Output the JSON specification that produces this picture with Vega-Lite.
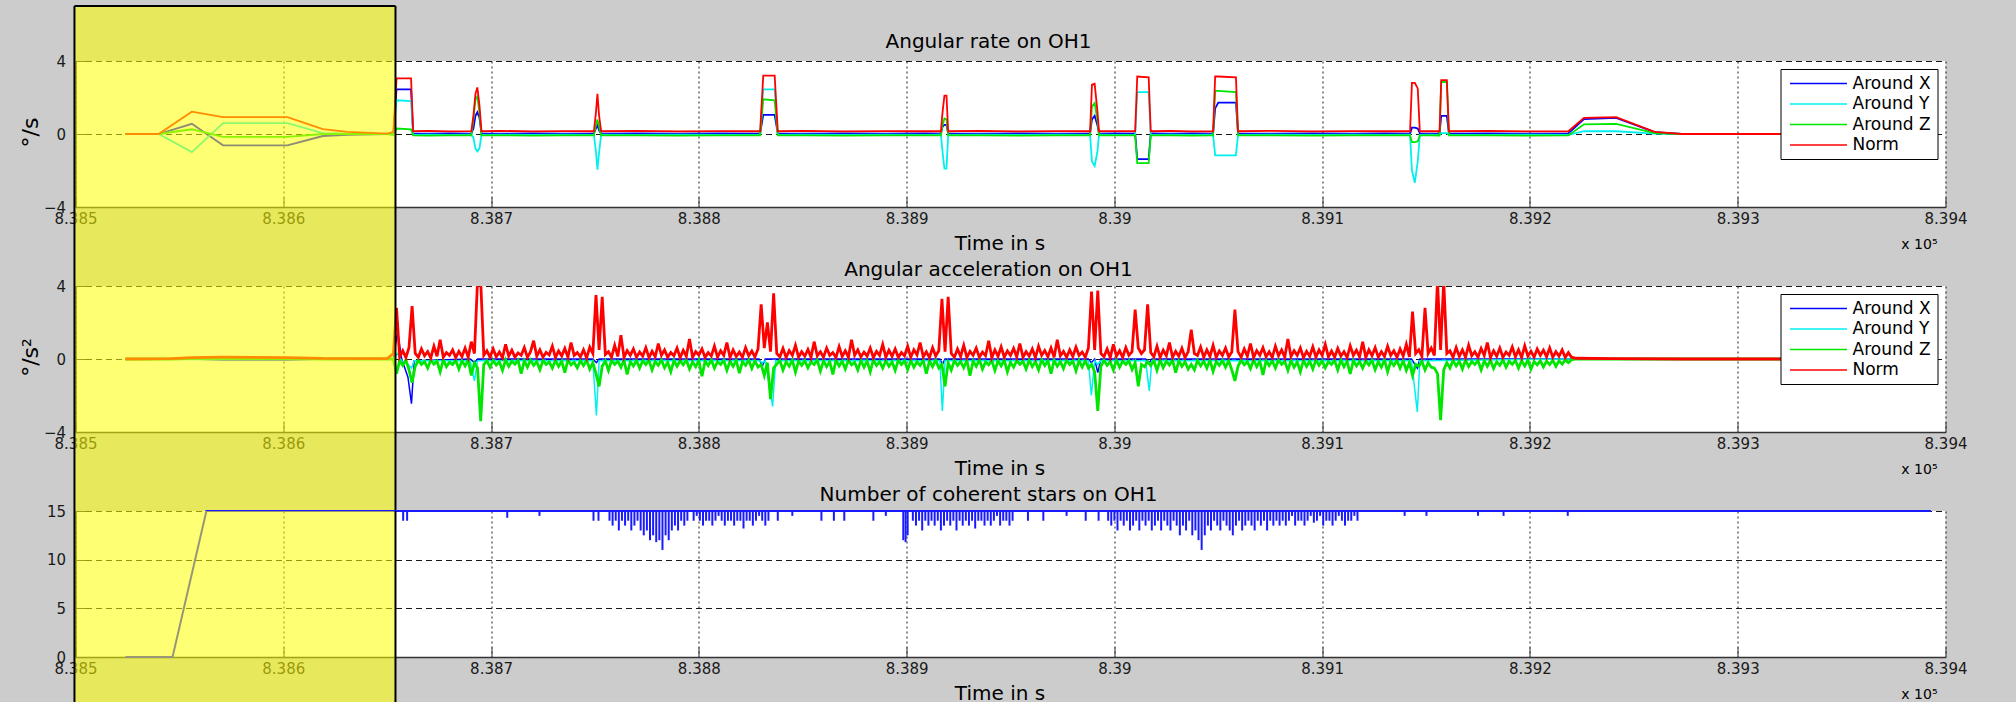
{
"$schema":"https://vega.github.io/schema/vega-lite/v6.json",
"background":"#cccccc",
"padding":{"left":19.5,"top":4,"right":48,"bottom":0},
"bounds":"flush",
"spacing":79,
"resolve":{"scale":{"color":"independent"},"legend":{"color":"independent"}},
"config":{
"font":"DejaVu Sans",
"view":{"fill":"white","stroke":null},
"title":{"fontSize":20,"fontWeight":"normal","color":"black","baseline":"alphabetic","dx":-22,"font":"DejaVu Sans","frame":"group"},
"axis":{"labelFont":"DejaVu Sans","labelFontSize":15,"labelColor":"#1a1a1a","titleFont":"DejaVu Sans","titleFontSize":20,"titleFontWeight":"normal","titleColor":"black","grid":true,"gridColor":"black","gridOpacity":0.9,"gridWidth":1,"domainColor":"#333333","domainWidth":1.5,"ticks":true,"tickColor":"#333333","tickWidth":1,"tickSize":-10},
"axisX":{"gridDash":[2,3],"labelPadding":14,"labelFlush":false,"labelOverlap":false,"titleBaseline":"alphabetic","titleX":924,"titleY":42},
"axisY":{"gridDash":[6,4],"labelPadding":20,"titleAngle":-90,"titleBaseline":"alphabetic","titleAlign":"center","titleX":-38,"titleY":71,"titleFontSize":22},
"legend":{"orient":"top-right","offset":8,"fillColor":"white","strokeColor":"black","padding":6,"labelFont":"DejaVu Sans","labelFontSize":17,"labelColor":"black","symbolType":"M-1,0H10.4","symbolSize":100,"symbolStrokeWidth":1.5,"labelOffset":49,"rowPadding":2.5}
},
"datasets":{
"rate":[
{"t":838524,"X":0,"Y":0,"Z":0,"N":0},
{"t":838540,"X":0,"Y":0,"Z":0,"N":0},
{"t":838556,"X":0.56,"Y":-0.99,"Z":0.26,"N":1.22},
{"t":838571,"X":-0.62,"Y":0.6,"Z":-0.16,"N":0.93},
{"t":838602,"X":-0.62,"Y":0.6,"Z":-0.16,"N":0.93},
{"t":838619,"X":-0.11,"Y":0.05,"Z":0,"N":0.27},
{"t":838631,"X":-0.04,"Y":0.02,"Z":0,"N":0.12},
{"t":838650,"X":0,"Y":0,"Z":0,"N":0.02},
{"t":838653,"X":0.02,"Y":-0.03,"Z":-0.05,"N":0.12},
{"t":838654.5,"X":2.45,"Y":1.85,"Z":0.3,"N":3.05},
{"t":838661.5,"X":2.45,"Y":1.8,"Z":0.25,"N":3.05},
{"t":838662.5,"X":0.03,"Y":-0.05,"Z":-0.08,"N":0.15},
{"t":838670,"X":0.02,"Y":-0.04,"Z":-0.09,"N":0.17},
{"t":838680,"X":0.03,"Y":-0.05,"Z":-0.07,"N":0.14},
{"t":838690.5,"X":0.02,"Y":-0.04,"Z":-0.08,"N":0.16},
{"t":838691.5,"X":0.3,"Y":-0.2,"Z":0.8,"N":1.0},
{"t":838692.5,"X":1.0,"Y":-0.8,"Z":1.9,"N":2.2},
{"t":838693.4,"X":1.2,"Y":-0.95,"Z":2.05,"N":2.55},
{"t":838694.4,"X":0.9,"Y":-0.8,"Z":1.2,"N":1.6},
{"t":838695.4,"X":0.03,"Y":-0.05,"Z":-0.08,"N":0.15},
{"t":838705,"X":0.02,"Y":-0.04,"Z":-0.07,"N":0.17},
{"t":838720,"X":0.03,"Y":-0.05,"Z":-0.09,"N":0.14},
{"t":838735,"X":0.02,"Y":-0.04,"Z":-0.08,"N":0.16},
{"t":838749.5,"X":0.03,"Y":-0.05,"Z":-0.07,"N":0.15},
{"t":838750.5,"X":0.3,"Y":-1.0,"Z":0.5,"N":1.2},
{"t":838751.2,"X":0.5,"Y":-1.95,"Z":0.8,"N":2.2},
{"t":838752,"X":0.2,"Y":-1.0,"Z":0.4,"N":1.0},
{"t":838753,"X":0.02,"Y":-0.04,"Z":-0.08,"N":0.15},
{"t":838770,"X":0.03,"Y":-0.05,"Z":-0.07,"N":0.17},
{"t":838790,"X":0.02,"Y":-0.04,"Z":-0.09,"N":0.14},
{"t":838810,"X":0.03,"Y":-0.05,"Z":-0.08,"N":0.16},
{"t":838829.5,"X":0.02,"Y":-0.04,"Z":-0.08,"N":0.15},
{"t":838831,"X":1.05,"Y":2.45,"Z":1.9,"N":3.2},
{"t":838836.5,"X":1.05,"Y":2.45,"Z":1.85,"N":3.2},
{"t":838838,"X":0.03,"Y":-0.05,"Z":-0.08,"N":0.15},
{"t":838850,"X":0.02,"Y":-0.04,"Z":-0.07,"N":0.17},
{"t":838870,"X":0.03,"Y":-0.05,"Z":-0.09,"N":0.14},
{"t":838890,"X":0.02,"Y":-0.04,"Z":-0.08,"N":0.16},
{"t":838909,"X":0.03,"Y":-0.05,"Z":-0.07,"N":0.15},
{"t":838916.5,"X":0.02,"Y":-0.04,"Z":-0.08,"N":0.15},
{"t":838917.3,"X":0.4,"Y":-1.0,"Z":0.5,"N":1.2},
{"t":838918.2,"X":0.5,"Y":-1.9,"Z":0.85,"N":2.1},
{"t":838919.2,"X":0.5,"Y":-1.9,"Z":0.8,"N":2.1},
{"t":838920,"X":0.03,"Y":-0.05,"Z":-0.08,"N":0.15},
{"t":838935,"X":0.02,"Y":-0.04,"Z":-0.07,"N":0.17},
{"t":838955,"X":0.03,"Y":-0.05,"Z":-0.09,"N":0.14},
{"t":838972,"X":0.02,"Y":-0.04,"Z":-0.08,"N":0.16},
{"t":838988.3,"X":0.03,"Y":-0.05,"Z":-0.07,"N":0.15},
{"t":838989.2,"X":0.8,"Y":-1.5,"Z":1.5,"N":2.7},
{"t":838990.5,"X":1.0,"Y":-1.75,"Z":1.7,"N":2.75},
{"t":838991.8,"X":0.5,"Y":-1.0,"Z":0.8,"N":1.3},
{"t":838992.6,"X":0.02,"Y":-0.04,"Z":-0.08,"N":0.15},
{"t":839001,"X":0.03,"Y":-0.05,"Z":-0.07,"N":0.16},
{"t":839010,"X":0.02,"Y":-0.04,"Z":-0.08,"N":0.15},
{"t":839011,"X":-1.38,"Y":2.3,"Z":-1.6,"N":3.15},
{"t":839016.5,"X":-1.38,"Y":2.3,"Z":-1.6,"N":3.1},
{"t":839017.5,"X":0.03,"Y":-0.05,"Z":-0.08,"N":0.15},
{"t":839027,"X":0.02,"Y":-0.04,"Z":-0.07,"N":0.17},
{"t":839037,"X":0.03,"Y":-0.05,"Z":-0.09,"N":0.14},
{"t":839047.5,"X":0.02,"Y":-0.04,"Z":-0.08,"N":0.15},
{"t":839048.5,"X":1.4,"Y":-1.17,"Z":2.36,"N":3.15},
{"t":839050,"X":1.72,"Y":-1.17,"Z":2.36,"N":3.15},
{"t":839058.5,"X":1.72,"Y":-1.17,"Z":2.3,"N":3.1},
{"t":839059.5,"X":0.03,"Y":-0.05,"Z":-0.08,"N":0.15},
{"t":839075,"X":0.02,"Y":-0.04,"Z":-0.07,"N":0.17},
{"t":839095,"X":0.03,"Y":-0.05,"Z":-0.09,"N":0.14},
{"t":839115,"X":0.02,"Y":-0.04,"Z":-0.08,"N":0.16},
{"t":839130,"X":0.03,"Y":-0.05,"Z":-0.07,"N":0.15},
{"t":839142.3,"X":0.02,"Y":-0.04,"Z":-0.08,"N":0.15},
{"t":839143.2,"X":0.35,"Y":-2.0,"Z":-0.44,"N":2.8},
{"t":839144.6,"X":0.35,"Y":-2.67,"Z":-0.44,"N":2.8},
{"t":839146,"X":0.3,"Y":-1.5,"Z":-0.4,"N":2.5},
{"t":839147,"X":0.03,"Y":-0.05,"Z":-0.08,"N":0.15},
{"t":839152,"X":0.02,"Y":-0.04,"Z":-0.07,"N":0.16},
{"t":839156.5,"X":0.03,"Y":-0.05,"Z":-0.08,"N":0.15},
{"t":839157.3,"X":0.99,"Y":0.05,"Z":2.85,"N":2.95},
{"t":839160,"X":0.99,"Y":0.05,"Z":2.85,"N":2.95},
{"t":839161,"X":0.02,"Y":-0.04,"Z":-0.08,"N":0.15},
{"t":839180,"X":0.03,"Y":-0.05,"Z":-0.07,"N":0.17},
{"t":839200,"X":0.02,"Y":-0.04,"Z":-0.09,"N":0.14},
{"t":839218.5,"X":0.03,"Y":-0.05,"Z":-0.08,"N":0.15},
{"t":839226,"X":0.82,"Y":0.16,"Z":0.53,"N":0.88},
{"t":839241.5,"X":0.88,"Y":0.15,"Z":0.55,"N":0.92},
{"t":839260,"X":0.1,"Y":0.02,"Z":0.05,"N":0.12},
{"t":839273,"X":0,"Y":0,"Z":0,"N":0},
{"t":839393,"X":0,"Y":0,"Z":0,"N":0}
],
"accxy":[
{"t":838524,"X":0,"Y":0},{"t":838556,"X":0,"Y":-0.03},{"t":838571,"X":-0.05,"Y":-0.03},{"t":838602,"X":-0.05,"Y":-0.03},{"t":838619,"X":0,"Y":0},{"t":838653,"X":0,"Y":0},
{"t":838655,"X":1.5,"Y":0.3},{"t":838657,"X":0,"Y":-0.1},{"t":838660,"X":-1.0,"Y":-0.3},{"t":838661.7,"X":-2.45,"Y":-0.5},{"t":838663,"X":-0.1,"Y":-0.1},
{"t":838690,"X":0,"Y":-0.1},{"t":838692,"X":-0.2,"Y":-1.2},{"t":838693.5,"X":0,"Y":-0.1},
{"t":838749,"X":0,"Y":-0.1},{"t":838750.7,"X":-0.2,"Y":-3.1},{"t":838752,"X":0,"Y":-0.1},
{"t":838829,"X":0,"Y":-0.1},{"t":838830.5,"X":-0.4,"Y":-0.2},{"t":838832,"X":0,"Y":-0.1},{"t":838835.5,"X":0,"Y":-2.6},{"t":838837,"X":0,"Y":-0.1},
{"t":838916,"X":0,"Y":-0.1},{"t":838917.2,"X":-0.3,"Y":-2.85},{"t":838918.5,"X":0,"Y":-0.1},
{"t":838987.5,"X":0,"Y":-0.1},{"t":838988.9,"X":-0.2,"Y":-2.0},{"t":838990.5,"X":0,"Y":-0.1},{"t":838992,"X":-0.75,"Y":-0.3},{"t":838993.5,"X":0,"Y":-0.1},
{"t":839015,"X":0,"Y":-0.1},{"t":839016.8,"X":-0.2,"Y":-1.75},{"t":839018,"X":0,"Y":-0.1},
{"t":839143,"X":0,"Y":-0.1},{"t":839145.8,"X":-0.5,"Y":-2.9},{"t":839147,"X":0,"Y":-0.1},
{"t":839220,"X":0,"Y":0},{"t":839393,"X":0,"Y":0}
],
"acczn":[
{"t":838524,"Z":0,"N":0},{"t":838546,"Z":0,"N":0.02},{"t":838556,"Z":0.03,"N":0.08},{"t":838571,"Z":0.03,"N":0.1},{"t":838602,"Z":0.02,"N":0.08},{"t":838619,"Z":0,"N":0.03},{"t":838650,"Z":0,"N":0.02},{"t":838653,"Z":0,"N":0.3},{"t":838654.5,"Z":-0.8,"N":2.8},
{"t":838656,"Z":-0.1,"N":0.12},{"t":838657.5,"Z":-0.35,"N":0.45},{"t":838659,"Z":-0.05,"N":0.08},{"t":838660.5,"Z":-0.6,"N":0.62},{"t":838662,"Z":-1.3,"N":2.9},{"t":838663.5,"Z":-0.4,"N":0.3},{"t":838665,"Z":-0.08,"N":0.1},{"t":838666.5,"Z":-0.3,"N":0.55},{"t":838668,"Z":-0.15,"N":0.18},{"t":838669.5,"Z":-0.5,"N":0.4},
{"t":838671,"Z":-0.06,"N":0.06},{"t":838672.5,"Z":-0.28,"N":0.7},{"t":838674,"Z":-0.12,"N":0.15},{"t":838675.5,"Z":-0.7,"N":1.05},{"t":838677,"Z":-0.05,"N":0.1},{"t":838678.5,"Z":-0.42,"N":0.35},{"t":838680,"Z":-0.18,"N":0.2},{"t":838681.5,"Z":-0.3,"N":0.5},{"t":838683,"Z":-0.08,"N":0.08},{"t":838684.5,"Z":-0.55,"N":0.42},
{"t":838686,"Z":-0.1,"N":0.14},{"t":838687.5,"Z":-0.38,"N":0.6},{"t":838689,"Z":-0.06,"N":0.1},{"t":838690.5,"Z":-0.9,"N":0.95},{"t":838692,"Z":-0.2,"N":0.3},{"t":838693.5,"Z":-0.5,"N":4.3},{"t":838695,"Z":-3.4,"N":4.3},{"t":838696.5,"Z":-0.3,"N":0.2},{"t":838698,"Z":-0.1,"N":0.45},{"t":838699.5,"Z":-0.45,"N":0.1},
{"t":838701,"Z":-0.08,"N":0.55},{"t":838702.5,"Z":-0.33,"N":0.12},{"t":838704,"Z":-0.15,"N":0.38},{"t":838705.5,"Z":-0.62,"N":0.07},{"t":838707,"Z":-0.05,"N":0.8},{"t":838708.5,"Z":-0.4,"N":0.16},{"t":838710,"Z":-0.12,"N":0.48},{"t":838711.5,"Z":-0.28,"N":0.1},{"t":838713,"Z":-0.07,"N":0.33},{"t":838714.5,"Z":-0.8,"N":0.2},
{"t":838716,"Z":-0.1,"N":0.62},{"t":838717.5,"Z":-0.45,"N":0.09},{"t":838719,"Z":-0.06,"N":0.4},{"t":838720.5,"Z":-0.35,"N":1.0},{"t":838722,"Z":-0.14,"N":0.15},{"t":838723.5,"Z":-0.58,"N":0.5},{"t":838725,"Z":-0.08,"N":0.1},{"t":838726.5,"Z":-0.3,"N":0.36},{"t":838728,"Z":-0.16,"N":0.22},{"t":838729.5,"Z":-0.5,"N":0.7},
{"t":838731,"Z":-0.07,"N":0.08},{"t":838732.5,"Z":-0.4,"N":0.44},{"t":838734,"Z":-0.12,"N":0.17},{"t":838735.5,"Z":-0.75,"N":0.58},{"t":838737,"Z":-0.05,"N":0.1},{"t":838738.5,"Z":-0.32,"N":0.9},{"t":838740,"Z":-0.18,"N":0.2},{"t":838741.5,"Z":-0.48,"N":0.35},{"t":838743,"Z":-0.09,"N":0.12},{"t":838744.5,"Z":-0.36,"N":0.5},
{"t":838746,"Z":-0.06,"N":0.06},{"t":838747.5,"Z":-0.55,"N":0.65},{"t":838749,"Z":-0.2,"N":0.3},{"t":838750.5,"Z":-0.8,"N":3.5},{"t":838752,"Z":-1.5,"N":0.5},{"t":838753.5,"Z":-0.4,"N":3.4},{"t":838755,"Z":-0.1,"N":0.25},{"t":838756.5,"Z":-0.62,"N":0.4},{"t":838758,"Z":-0.08,"N":0.1},{"t":838759.5,"Z":-0.3,"N":0.75},
{"t":838761,"Z":-0.12,"N":0.14},{"t":838762.5,"Z":-0.45,"N":1.3},{"t":838764,"Z":-0.06,"N":0.09},{"t":838765.5,"Z":-0.85,"N":0.46},{"t":838767,"Z":-0.15,"N":0.2},{"t":838768.5,"Z":-0.38,"N":0.55},{"t":838770,"Z":-0.08,"N":0.1},{"t":838771.5,"Z":-0.5,"N":0.38},{"t":838773,"Z":-0.1,"N":0.16},{"t":838774.5,"Z":-0.3,"N":0.62},
{"t":838776,"Z":-0.07,"N":0.08},{"t":838777.5,"Z":-0.6,"N":0.42},{"t":838779,"Z":-0.14,"N":0.12},{"t":838780.5,"Z":-0.35,"N":0.85},{"t":838782,"Z":-0.05,"N":0.2},{"t":838783.5,"Z":-0.48,"N":0.5},{"t":838785,"Z":-0.18,"N":0.1},{"t":838786.5,"Z":-0.7,"N":0.36},{"t":838788,"Z":-0.09,"N":0.18},{"t":838789.5,"Z":-0.4,"N":0.6},
{"t":838791,"Z":-0.1,"N":0.07},{"t":838792.5,"Z":-0.32,"N":0.48},{"t":838794,"Z":-0.06,"N":0.15},{"t":838795.5,"Z":-0.55,"N":1.1},{"t":838797,"Z":-0.16,"N":0.1},{"t":838798.5,"Z":-0.42,"N":0.4},{"t":838800,"Z":-0.08,"N":0.22},{"t":838801.5,"Z":-0.95,"N":0.55},{"t":838803,"Z":-0.12,"N":0.09},{"t":838804.5,"Z":-0.36,"N":0.35},
{"t":838806,"Z":-0.05,"N":0.16},{"t":838807.5,"Z":-0.5,"N":0.7},{"t":838809,"Z":-0.15,"N":0.1},{"t":838810.5,"Z":-0.3,"N":0.45},{"t":838812,"Z":-0.08,"N":0.2},{"t":838813.5,"Z":-0.62,"N":0.9},{"t":838815,"Z":-0.12,"N":0.08},{"t":838816.5,"Z":-0.4,"N":0.5},{"t":838818,"Z":-0.07,"N":0.14},{"t":838819.5,"Z":-0.78,"N":0.38},
{"t":838821,"Z":-0.14,"N":0.1},{"t":838822.5,"Z":-0.35,"N":0.62},{"t":838824,"Z":-0.06,"N":0.18},{"t":838825.5,"Z":-0.52,"N":0.44},{"t":838827,"Z":-0.1,"N":0.12},{"t":838828.5,"Z":-0.44,"N":0.55},{"t":838830,"Z":-0.3,"N":3.0},{"t":838831.5,"Z":-0.9,"N":0.6},{"t":838833,"Z":-0.2,"N":2.0},{"t":838834.5,"Z":-2.2,"N":0.4},
{"t":838836,"Z":-0.5,"N":3.6},{"t":838837.5,"Z":-0.28,"N":0.3},{"t":838839,"Z":-0.08,"N":0.12},{"t":838840.5,"Z":-0.6,"N":0.58},{"t":838842,"Z":-0.15,"N":0.08},{"t":838843.5,"Z":-0.4,"N":0.46},{"t":838845,"Z":-0.06,"N":0.2},{"t":838846.5,"Z":-0.72,"N":0.75},{"t":838848,"Z":-0.12,"N":0.1},{"t":838849.5,"Z":-0.35,"N":0.4},
{"t":838851,"Z":-0.09,"N":0.15},{"t":838852.5,"Z":-0.48,"N":0.52},{"t":838854,"Z":-0.16,"N":0.09},{"t":838855.5,"Z":-0.3,"N":0.95},{"t":838857,"Z":-0.05,"N":0.18},{"t":838858.5,"Z":-0.66,"N":0.4},{"t":838860,"Z":-0.1,"N":0.1},{"t":838861.5,"Z":-0.42,"N":0.6},{"t":838863,"Z":-0.14,"N":0.2},{"t":838864.5,"Z":-0.85,"N":0.35},
{"t":838866,"Z":-0.07,"N":0.08},{"t":838867.5,"Z":-0.38,"N":0.68},{"t":838869,"Z":-0.12,"N":0.14},{"t":838870.5,"Z":-0.55,"N":0.45},{"t":838872,"Z":-0.06,"N":0.1},{"t":838873.5,"Z":-0.32,"N":1.05},{"t":838875,"Z":-0.18,"N":0.2},{"t":838876.5,"Z":-0.6,"N":0.5},{"t":838878,"Z":-0.08,"N":0.12},{"t":838879.5,"Z":-0.45,"N":0.38},
{"t":838881,"Z":-0.1,"N":0.16},{"t":838882.5,"Z":-0.7,"N":0.6},{"t":838884,"Z":-0.05,"N":0.08},{"t":838885.5,"Z":-0.36,"N":0.42},{"t":838887,"Z":-0.14,"N":0.2},{"t":838888.5,"Z":-0.5,"N":0.8},{"t":838890,"Z":-0.09,"N":0.1},{"t":838891.5,"Z":-0.4,"N":0.48},{"t":838893,"Z":-0.16,"N":0.15},{"t":838894.5,"Z":-0.62,"N":0.55},
{"t":838896,"Z":-0.06,"N":0.09},{"t":838897.5,"Z":-0.3,"N":0.36},{"t":838899,"Z":-0.12,"N":0.18},{"t":838900.5,"Z":-0.58,"N":0.7},{"t":838902,"Z":-0.08,"N":0.1},{"t":838903.5,"Z":-0.45,"N":0.5},{"t":838905,"Z":-0.15,"N":0.22},{"t":838906.5,"Z":-0.35,"N":0.9},{"t":838908,"Z":-0.07,"N":0.12},{"t":838909.5,"Z":-0.8,"N":0.4},
{"t":838911,"Z":-0.1,"N":0.08},{"t":838912.5,"Z":-0.42,"N":0.62},{"t":838914,"Z":-0.06,"N":0.16},{"t":838915.5,"Z":-0.5,"N":0.45},{"t":838917,"Z":-0.3,"N":3.3},{"t":838918.5,"Z":-1.5,"N":0.4},{"t":838920,"Z":-0.2,"N":3.4},{"t":838921.5,"Z":-0.6,"N":0.3},{"t":838923,"Z":-0.08,"N":0.1},{"t":838924.5,"Z":-0.35,"N":0.55},
{"t":838926,"Z":-0.14,"N":0.14},{"t":838927.5,"Z":-0.48,"N":0.75},{"t":838929,"Z":-0.07,"N":0.09},{"t":838930.5,"Z":-0.92,"N":0.42},{"t":838932,"Z":-0.12,"N":0.2},{"t":838933.5,"Z":-0.4,"N":0.6},{"t":838935,"Z":-0.05,"N":0.1},{"t":838936.5,"Z":-0.55,"N":0.38},{"t":838938,"Z":-0.16,"N":0.18},{"t":838939.5,"Z":-0.32,"N":1.0},
{"t":838941,"Z":-0.08,"N":0.08},{"t":838942.5,"Z":-0.62,"N":0.5},{"t":838944,"Z":-0.1,"N":0.15},{"t":838945.5,"Z":-0.38,"N":0.66},{"t":838947,"Z":-0.06,"N":0.1},{"t":838948.5,"Z":-0.7,"N":0.44},{"t":838950,"Z":-0.18,"N":0.2},{"t":838951.5,"Z":-0.45,"N":0.58},{"t":838953,"Z":-0.09,"N":0.12},{"t":838954.5,"Z":-0.3,"N":0.85},
{"t":838956,"Z":-0.12,"N":0.1},{"t":838957.5,"Z":-0.55,"N":0.4},{"t":838959,"Z":-0.07,"N":0.16},{"t":838960.5,"Z":-0.42,"N":0.55},{"t":838962,"Z":-0.15,"N":0.08},{"t":838963.5,"Z":-0.6,"N":0.7},{"t":838965,"Z":-0.05,"N":0.2},{"t":838966.5,"Z":-0.36,"N":0.46},{"t":838968,"Z":-0.1,"N":0.12},{"t":838969.5,"Z":-0.8,"N":0.6},
{"t":838971,"Z":-0.08,"N":0.09},{"t":838972.5,"Z":-0.4,"N":1.05},{"t":838974,"Z":-0.14,"N":0.18},{"t":838975.5,"Z":-0.52,"N":0.42},{"t":838977,"Z":-0.06,"N":0.1},{"t":838978.5,"Z":-0.3,"N":0.5},{"t":838980,"Z":-0.12,"N":0.14},{"t":838981.5,"Z":-0.65,"N":0.65},{"t":838983,"Z":-0.09,"N":0.2},{"t":838984.5,"Z":-0.44,"N":0.38},
{"t":838986,"Z":-0.1,"N":0.1},{"t":838987.5,"Z":-0.5,"N":0.6},{"t":838989,"Z":-0.3,"N":3.7},{"t":838990.5,"Z":-0.7,"N":0.5},{"t":838992,"Z":-2.85,"N":3.75},{"t":838993.5,"Z":-0.4,"N":0.3},{"t":838995,"Z":-0.08,"N":0.12},{"t":838996.5,"Z":-0.35,"N":0.55},{"t":838998,"Z":-0.14,"N":0.08},{"t":838999.5,"Z":-0.6,"N":0.8},
{"t":839001,"Z":-0.06,"N":0.16},{"t":839002.5,"Z":-0.45,"N":0.45},{"t":839004,"Z":-0.12,"N":0.1},{"t":839005.5,"Z":-0.3,"N":0.62},{"t":839007,"Z":-0.1,"N":0.2},{"t":839008.5,"Z":-0.58,"N":0.4},{"t":839010,"Z":-0.2,"N":2.7},{"t":839011.5,"Z":-1.5,"N":0.6},{"t":839013,"Z":-0.3,"N":0.3},{"t":839014.5,"Z":-0.42,"N":0.5},
{"t":839016,"Z":-0.15,"N":3.0},{"t":839017.5,"Z":-0.36,"N":0.35},{"t":839019,"Z":-0.08,"N":0.12},{"t":839020.5,"Z":-0.62,"N":0.7},{"t":839022,"Z":-0.05,"N":0.09},{"t":839023.5,"Z":-0.48,"N":0.48},{"t":839025,"Z":-0.12,"N":0.18},{"t":839026.5,"Z":-0.33,"N":0.9},{"t":839028,"Z":-0.07,"N":0.1},{"t":839029.5,"Z":-0.75,"N":0.42},
{"t":839031,"Z":-0.1,"N":0.15},{"t":839032.5,"Z":-0.4,"N":0.58},{"t":839034,"Z":-0.16,"N":0.08},{"t":839035.5,"Z":-0.55,"N":0.4},{"t":839037,"Z":-0.3,"N":1.6},{"t":839038.5,"Z":-0.6,"N":0.3},{"t":839040,"Z":-0.09,"N":0.2},{"t":839041.5,"Z":-0.38,"N":0.65},{"t":839043,"Z":-0.12,"N":0.1},{"t":839044.5,"Z":-0.5,"N":0.5},
{"t":839046,"Z":-0.06,"N":0.14},{"t":839047.5,"Z":-0.68,"N":0.75},{"t":839049,"Z":-0.14,"N":0.09},{"t":839050.5,"Z":-0.35,"N":0.44},{"t":839052,"Z":-0.08,"N":0.2},{"t":839053.5,"Z":-0.45,"N":0.6},{"t":839055,"Z":-0.1,"N":0.12},{"t":839056.5,"Z":-0.6,"N":0.38},{"t":839058,"Z":-1.2,"N":2.7},{"t":839059.5,"Z":-0.4,"N":0.4},
{"t":839061,"Z":-0.07,"N":0.1},{"t":839062.5,"Z":-0.32,"N":0.55},{"t":839064,"Z":-0.15,"N":0.16},{"t":839065.5,"Z":-0.52,"N":0.85},{"t":839067,"Z":-0.05,"N":0.08},{"t":839068.5,"Z":-0.42,"N":0.46},{"t":839070,"Z":-0.12,"N":0.2},{"t":839071.5,"Z":-0.88,"N":0.62},{"t":839073,"Z":-0.09,"N":0.12},{"t":839074.5,"Z":-0.36,"N":0.4},
{"t":839076,"Z":-0.1,"N":0.09},{"t":839077.5,"Z":-0.5,"N":0.7},{"t":839079,"Z":-0.06,"N":0.18},{"t":839080.5,"Z":-0.3,"N":0.5},{"t":839082,"Z":-0.14,"N":0.1},{"t":839083.5,"Z":-0.62,"N":1.1},{"t":839085,"Z":-0.08,"N":0.14},{"t":839086.5,"Z":-0.45,"N":0.45},{"t":839088,"Z":-0.16,"N":0.2},{"t":839089.5,"Z":-0.7,"N":0.6},
{"t":839091,"Z":-0.07,"N":0.08},{"t":839092.5,"Z":-0.4,"N":0.42},{"t":839094,"Z":-0.12,"N":0.15},{"t":839095.5,"Z":-0.55,"N":0.66},{"t":839097,"Z":-0.05,"N":0.1},{"t":839098.5,"Z":-0.35,"N":0.5},{"t":839100,"Z":-0.1,"N":0.2},{"t":839101.5,"Z":-0.48,"N":0.8},{"t":839103,"Z":-0.15,"N":0.12},{"t":839104.5,"Z":-0.3,"N":0.44},
{"t":839106,"Z":-0.08,"N":0.1},{"t":839107.5,"Z":-0.6,"N":0.58},{"t":839109,"Z":-0.06,"N":0.16},{"t":839110.5,"Z":-0.42,"N":0.4},{"t":839112,"Z":-0.12,"N":0.08},{"t":839113.5,"Z":-0.82,"N":0.72},{"t":839115,"Z":-0.09,"N":0.2},{"t":839116.5,"Z":-0.38,"N":0.48},{"t":839118,"Z":-0.14,"N":0.12},{"t":839119.5,"Z":-0.5,"N":0.95},
{"t":839121,"Z":-0.1,"N":0.09},{"t":839122.5,"Z":-0.33,"N":0.5},{"t":839124,"Z":-0.07,"N":0.18},{"t":839125.5,"Z":-0.58,"N":0.62},{"t":839127,"Z":-0.15,"N":0.1},{"t":839128.5,"Z":-0.45,"N":0.4},{"t":839130,"Z":-0.05,"N":0.14},{"t":839131.5,"Z":-0.7,"N":0.7},{"t":839133,"Z":-0.12,"N":0.2},{"t":839134.5,"Z":-0.36,"N":0.45},
{"t":839136,"Z":-0.08,"N":0.1},{"t":839137.5,"Z":-0.5,"N":0.55},{"t":839139,"Z":-0.1,"N":0.16},{"t":839140.5,"Z":-0.62,"N":0.8},{"t":839142,"Z":-0.2,"N":0.12},{"t":839143.5,"Z":-0.9,"N":2.6},{"t":839145,"Z":-0.3,"N":0.3},{"t":839146.5,"Z":-0.4,"N":0.5},{"t":839148,"Z":-0.12,"N":0.15},{"t":839149.5,"Z":-0.6,"N":2.8},
{"t":839151,"Z":-0.2,"N":0.3},{"t":839152.5,"Z":-0.45,"N":0.6},{"t":839154,"Z":-0.5,"N":0.2},{"t":839155.5,"Z":-0.8,"N":4.3},{"t":839157,"Z":-3.35,"N":0.5},{"t":839158.5,"Z":-0.6,"N":4.3},{"t":839160,"Z":-0.2,"N":0.3},{"t":839161.5,"Z":-0.5,"N":0.45},{"t":839163,"Z":-0.08,"N":0.1},{"t":839164.5,"Z":-0.38,"N":0.62},
{"t":839166,"Z":-0.12,"N":0.14},{"t":839167.5,"Z":-0.55,"N":0.5},{"t":839169,"Z":-0.06,"N":0.09},{"t":839170.5,"Z":-0.42,"N":0.75},{"t":839172,"Z":-0.14,"N":0.18},{"t":839173.5,"Z":-0.3,"N":0.4},{"t":839175,"Z":-0.09,"N":0.1},{"t":839176.5,"Z":-0.6,"N":0.58},{"t":839178,"Z":-0.1,"N":0.2},{"t":839179.5,"Z":-0.4,"N":0.9},
{"t":839181,"Z":-0.07,"N":0.08},{"t":839182.5,"Z":-0.52,"N":0.45},{"t":839184,"Z":-0.15,"N":0.15},{"t":839185.5,"Z":-0.35,"N":0.6},{"t":839187,"Z":-0.05,"N":0.1},{"t":839188.5,"Z":-0.45,"N":0.38},{"t":839190,"Z":-0.12,"N":0.2},{"t":839191.5,"Z":-0.3,"N":0.66},{"t":839193,"Z":-0.08,"N":0.12},{"t":839194.5,"Z":-0.5,"N":0.5},
{"t":839196,"Z":-0.1,"N":0.09},{"t":839197.5,"Z":-0.38,"N":0.72},{"t":839199,"Z":-0.06,"N":0.16},{"t":839200.5,"Z":-0.55,"N":0.42},{"t":839202,"Z":-0.14,"N":0.1},{"t":839203.5,"Z":-0.32,"N":0.55},{"t":839205,"Z":-0.09,"N":0.2},{"t":839206.5,"Z":-0.44,"N":0.48},{"t":839208,"Z":-0.12,"N":0.12},{"t":839209.5,"Z":-0.3,"N":0.6},
{"t":839211,"Z":-0.07,"N":0.1},{"t":839212.5,"Z":-0.4,"N":0.4},{"t":839214,"Z":-0.1,"N":0.15},{"t":839215.5,"Z":-0.28,"N":0.5},{"t":839217,"Z":-0.05,"N":0.08},{"t":839218.5,"Z":-0.2,"N":0.35},{"t":839220,"Z":-0.05,"N":0.1},
{"t":839222,"Z":0,"N":0.04},{"t":839240,"Z":0,"N":0.02},{"t":839275,"Z":0,"N":0},{"t":839393,"Z":0,"N":0}
],
"stars":[{"t":838524,"v":0},{"t":838546.7,"v":0},{"t":838563,"v":15},{"t":839393,"v":15}],
"drops":[
{"t":838657.7,"v":14},{"t":838659.6,"v":14},{"t":838707.8,"v":14.3},{"t":838723.3,"v":14.5},{"t":838749.3,"v":14},{"t":838751.7,"v":14},
{"t":838757,"v":14},{"t":838758.5,"v":13.5},{"t":838760,"v":14},{"t":838761.5,"v":13},{"t":838763,"v":14},{"t":838764.5,"v":13.5},{"t":838766,"v":14},{"t":838767.5,"v":13},{"t":838769,"v":13.5},{"t":838770.5,"v":14},{"t":838772,"v":13},{"t":838773.5,"v":12.5},{"t":838775,"v":13},{"t":838776.5,"v":12},{"t":838778,"v":12.5},{"t":838779.5,"v":11.8},{"t":838781,"v":12},{"t":838782.5,"v":11},{"t":838784,"v":12.5},{"t":838785.5,"v":12},{"t":838787,"v":13},{"t":838788.5,"v":13.5},{"t":838790,"v":13},{"t":838791.5,"v":14},{"t":838793,"v":13.5},{"t":838794.5,"v":14},
{"t":838797.5,"v":14},{"t":838799,"v":14.5},{"t":838800.5,"v":14},{"t":838802,"v":13.5},{"t":838803.5,"v":14},{"t":838805,"v":14},{"t":838806.5,"v":13.5},{"t":838808,"v":14},{"t":838809.5,"v":14.5},{"t":838811,"v":14},{"t":838812.5,"v":13.5},{"t":838814,"v":14},{"t":838815.5,"v":14},{"t":838817,"v":13.5},{"t":838818.5,"v":14},{"t":838820,"v":14},{"t":838821.5,"v":13.2},{"t":838823,"v":14},{"t":838824.5,"v":14},{"t":838826,"v":13.5},{"t":838827.5,"v":14},{"t":838829,"v":14.5},{"t":838830.5,"v":14},{"t":838832,"v":13.5},{"t":838833.5,"v":14},
{"t":838838,"v":14},{"t":838845,"v":14.5},{"t":838859,"v":14},{"t":838865,"v":14},{"t":838870,"v":14},{"t":838884,"v":14},{"t":838890,"v":14.5},
{"t":838898.4,"v":12},{"t":838899.5,"v":11.8},{"t":838900.5,"v":12.5},{"t":838903,"v":14},{"t":838904.5,"v":13.5},{"t":838906,"v":14},{"t":838907.5,"v":13},{"t":838909,"v":14},{"t":838910.5,"v":13.5},{"t":838912,"v":14},{"t":838913.5,"v":13.5},{"t":838915,"v":14},{"t":838916.5,"v":13},{"t":838918,"v":13.5},{"t":838919.5,"v":14},{"t":838921,"v":13.5},{"t":838922.5,"v":14},{"t":838924,"v":13},{"t":838925.5,"v":14},{"t":838927,"v":13.5},{"t":838928.5,"v":14},{"t":838930,"v":13.5},{"t":838931.5,"v":14},{"t":838933,"v":13.2},{"t":838934.5,"v":14},{"t":838936,"v":14},{"t":838937.5,"v":13.5},{"t":838939,"v":14},{"t":838940.5,"v":13.5},{"t":838942,"v":14},{"t":838943.5,"v":14.5},{"t":838945,"v":13.5},{"t":838946.5,"v":14},{"t":838948,"v":14},{"t":838949.5,"v":13.5},{"t":838951,"v":14},
{"t":838958.4,"v":14},{"t":838965.8,"v":14},{"t":838977,"v":14.5},{"t":838986.2,"v":14},{"t":838992.4,"v":14},
{"t":838997,"v":14},{"t":838998.5,"v":13.5},{"t":839000,"v":14},{"t":839001.5,"v":13},{"t":839003,"v":14},{"t":839004.5,"v":13.5},{"t":839006,"v":14},{"t":839007.5,"v":13},{"t":839009,"v":13.5},{"t":839010.5,"v":14},{"t":839012,"v":13},{"t":839013.5,"v":14},{"t":839015,"v":13.5},{"t":839016.5,"v":14},{"t":839018,"v":13},{"t":839019.5,"v":13.5},{"t":839021,"v":14},{"t":839022.5,"v":13},{"t":839024,"v":14},{"t":839025.5,"v":13.5},{"t":839027,"v":13},{"t":839028.5,"v":14},{"t":839030,"v":13.5},{"t":839031.5,"v":12.5},{"t":839033,"v":13.5},{"t":839034.5,"v":13},{"t":839036,"v":14},{"t":839037.5,"v":12.5},{"t":839039,"v":13},{"t":839040.5,"v":12},{"t":839042,"v":11},{"t":839043.5,"v":12.5},{"t":839045,"v":13.5},{"t":839046.5,"v":13},{"t":839048,"v":14},{"t":839049.5,"v":13.5},{"t":839051,"v":13},{"t":839052.5,"v":14},{"t":839054,"v":13.5},{"t":839055.5,"v":13},{"t":839057,"v":12.5},{"t":839058.5,"v":13.5},{"t":839060,"v":14},{"t":839061.5,"v":13},{"t":839063,"v":13.5},{"t":839064.5,"v":14},{"t":839066,"v":13.5},{"t":839067.5,"v":13},{"t":839069,"v":14},{"t":839070.5,"v":13.5},{"t":839072,"v":14},{"t":839073.5,"v":13},{"t":839075,"v":14},{"t":839076.5,"v":13.5},{"t":839078,"v":14},{"t":839079.5,"v":13.5},{"t":839081,"v":14},{"t":839082.5,"v":13.5},{"t":839084,"v":14},{"t":839085.5,"v":14.5},{"t":839087,"v":13.5},{"t":839088.5,"v":14},{"t":839090,"v":14},{"t":839091.5,"v":13.5},{"t":839093,"v":14},{"t":839094.5,"v":14.5},{"t":839096,"v":13.8},{"t":839097.5,"v":14},{"t":839099,"v":14.5},{"t":839100.5,"v":13.5},{"t":839102,"v":14},{"t":839103.5,"v":14},{"t":839105,"v":13.5},{"t":839106.5,"v":14},{"t":839108,"v":14.5},{"t":839109.5,"v":14},{"t":839111,"v":13.5},{"t":839112.5,"v":14},{"t":839114,"v":14},{"t":839115.5,"v":14.5},{"t":839117,"v":14},
{"t":839139.7,"v":14.5},{"t":839150.2,"v":14.5},{"t":839175,"v":14.5},{"t":839187.3,"v":14.5},{"t":839218.2,"v":14.5}
]
},
"vconcat":[
{
"width":1870,"height":146,
"title":{"text":"Angular rate on OH1","offset":-47},
"layer":[
{"data":{"name":"rate"},
"transform":[{"fold":["X","Y","Z","N"],"as":["key","val"]}],
"mark":{"type":"line","strokeWidth":1.8,"clip":true},
"encoding":{
"x":{"field":"t","type":"quantitative","title":"Time in s","scale":{"domain":[838500,839400],"nice":false,"zero":false},"axis":{"values":[838500,838600,838700,838800,838900,839000,839100,839200,839300,839400],"labelExpr":"format(datum.value/100000,'.4~r')"}},
"y":{"field":"val","type":"quantitative","title":"°/s","scale":{"domain":[-4,4],"nice":false},"axis":{"values":[-4,-2,0,2,4],"format":"d"}},
"color":{"field":"key","type":"nominal","sort":null,"scale":{"domain":["X","Y","Z","N"],"range":["#0000ff","#00f0f0","#00e600","#ff0000"]},"legend":{"title":null,"labelExpr":"datum.label == 'N' ? 'Norm' : 'Around ' + datum.label"}}
}},
{"data":{"values":[{"a":838499.5,"b":838654}]},
"mark":{"type":"rect","fill":"#ffff00","opacity":0.55,"clip":false},
"encoding":{"x":{"field":"a","type":"quantitative","title":"Time in s"},"x2":{"field":"b"},"y":{"datum":7.0137},"y2":{"datum":-8.33}}},
{"data":{"values":[{"a":838499.5},{"a":838654}]},
"mark":{"type":"rule","color":"black","strokeWidth":2,"clip":false},
"encoding":{"x":{"field":"a","type":"quantitative","title":"Time in s"},"y":{"datum":7.0137},"y2":{"datum":-8.33}}},
{"data":{"values":[{"a":838499.5,"b":838654}]},
"mark":{"type":"rule","color":"black","strokeWidth":2,"clip":false},
"encoding":{"x":{"field":"a","type":"quantitative","title":"Time in s"},"x2":{"field":"b"},"y":{"datum":7.0137}}},
{"data":{"values":[{}]},
"mark":{"type":"text","text":"x 10⁵","align":"right","baseline":"alphabetic","dx":-8,"dy":42,"fontSize":14,"clip":false,"font":"DejaVu Sans","color":"black"},
"encoding":{"x":{"datum":839400,"type":"quantitative"},"y":{"datum":-4,"type":"quantitative"}}}
]
},
{
"width":1870,"height":146,
"title":{"text":"Angular acceleration on OH1","offset":-1},
"layer":[
{"data":{"name":"accxy"},
"transform":[{"fold":["X","Y"],"as":["key","val"]}],
"mark":{"type":"line","strokeWidth":1.5,"clip":true},
"encoding":{
"x":{"field":"t","type":"quantitative","title":"Time in s","scale":{"domain":[838500,839400],"nice":false,"zero":false},"axis":{"values":[838500,838600,838700,838800,838900,839000,839100,839200,839300,839400],"labelExpr":"format(datum.value/100000,'.4~r')"}},
"y":{"field":"val","type":"quantitative","title":"°/s²","scale":{"domain":[-4,4],"nice":false},"axis":{"values":[-4,-2,0,2,4],"format":"d"}},
"color":{"field":"key","type":"nominal","sort":null,"scale":{"domain":["X","Y","Z","N"],"range":["#0000ff","#00f0f0","#00e600","#ff0000"]},"legend":{"title":null,"labelExpr":"datum.label == 'N' ? 'Norm' : 'Around ' + datum.label"}}
}},
{"data":{"name":"acczn"},
"transform":[{"fold":["Z","N"],"as":["key","val"]}],
"mark":{"type":"line","strokeWidth":2.8,"clip":true},
"encoding":{
"x":{"field":"t","type":"quantitative","title":"Time in s"},
"y":{"field":"val","type":"quantitative","title":"°/s²"},
"color":{"field":"key","type":"nominal","sort":null}
}},
{"data":{"values":[{"a":838499.5,"b":838654}]},
"mark":{"type":"rect","fill":"#ffff00","opacity":0.55,"clip":false},
"encoding":{"x":{"field":"a","type":"quantitative","title":"Time in s"},"x2":{"field":"b"},"y":{"datum":4},"y2":{"datum":-8.33}}},
{"data":{"values":[{"a":838499.5},{"a":838654}]},
"mark":{"type":"rule","color":"black","strokeWidth":2,"clip":false},
"encoding":{"x":{"field":"a","type":"quantitative","title":"Time in s"},"y":{"datum":4},"y2":{"datum":-8.33}}},
{"data":{"values":[{}]},
"mark":{"type":"text","text":"x 10⁵","align":"right","baseline":"alphabetic","dx":-8,"dy":42,"fontSize":14,"clip":false,"font":"DejaVu Sans","color":"black"},
"encoding":{"x":{"datum":839400,"type":"quantitative"},"y":{"datum":-4,"type":"quantitative"}}}
]
},
{
"width":1870,"height":146,
"title":{"text":"Number of coherent stars on OH1","offset":-1},
"layer":[
{"data":{"name":"stars"},
"mark":{"type":"line","strokeWidth":2,"color":"#1a1aff","clip":false},
"encoding":{
"x":{"field":"t","type":"quantitative","title":"Time in s","scale":{"domain":[838500,839400],"nice":false,"zero":false},"axis":{"values":[838500,838600,838700,838800,838900,839000,839100,839200,839300,839400],"labelExpr":"format(datum.value/100000,'.4~r')"}},
"y":{"field":"v","type":"quantitative","title":null,"scale":{"domain":[0,15],"nice":false,"zero":false},"axis":{"values":[0,5,10,15],"format":"d"}}
}},
{"data":{"name":"drops"},
"mark":{"type":"rule","strokeWidth":2,"color":"#1a1aff"},
"encoding":{
"x":{"field":"t","type":"quantitative","title":"Time in s"},
"y":{"field":"v","type":"quantitative","title":null},
"y2":{"datum":15}
}},
{"data":{"values":[{"a":838499.5,"b":838654}]},
"mark":{"type":"rect","fill":"#ffff00","opacity":0.55,"clip":false},
"encoding":{"x":{"field":"a","type":"quantitative","title":"Time in s"},"x2":{"field":"b"},"y":{"datum":15},"y2":{"datum":-5}}},
{"data":{"values":[{"a":838499.5},{"a":838654}]},
"mark":{"type":"rule","color":"black","strokeWidth":2,"clip":false},
"encoding":{"x":{"field":"a","type":"quantitative","title":"Time in s"},"y":{"datum":15},"y2":{"datum":-5}}},
{"data":{"values":[{}]},
"mark":{"type":"text","text":"x 10⁵","align":"right","baseline":"alphabetic","dx":-8,"dy":42,"fontSize":14,"clip":false,"font":"DejaVu Sans","color":"black"},
"encoding":{"x":{"datum":839400,"type":"quantitative"},"y":{"datum":0,"type":"quantitative"}}}
]
}
]
}
